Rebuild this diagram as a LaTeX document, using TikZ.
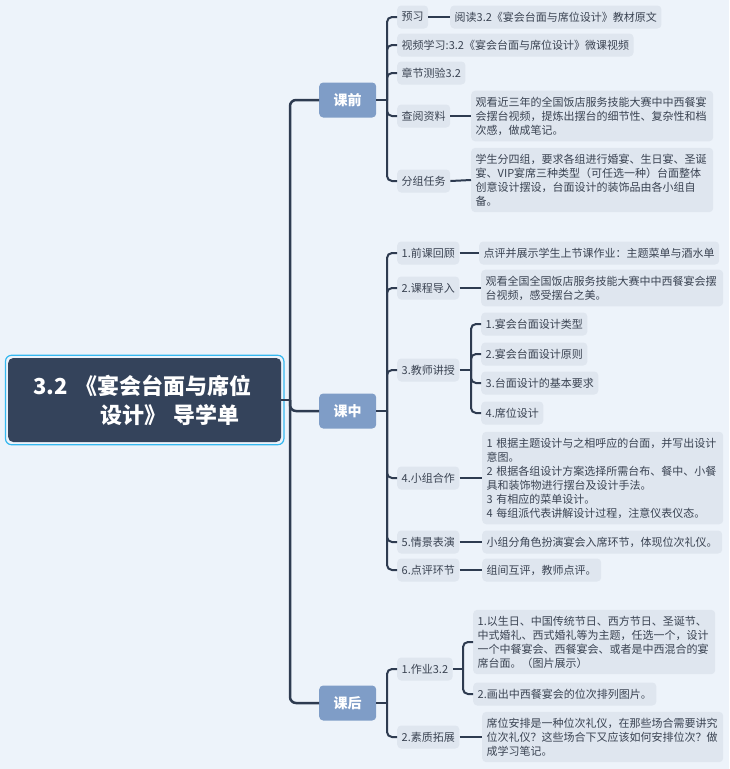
\documentclass[tikz,border=0pt]{standalone}
\usepackage{fontspec}
\setmainfont{Noto Sans CJK SC}
\definecolor{bgc}{HTML}{EDF3FA}
\definecolor{boxc}{HTML}{DFE6EF}
\definecolor{txtc}{HTML}{3A4352}
\definecolor{linec}{HTML}{2E3B50}
\definecolor{topc}{HTML}{7F9DC7}
\definecolor{rootc}{HTML}{34435B}
\definecolor{rootb}{HTML}{35B8F0}
\tikzset{
  box/.style={fill=boxc, rounded corners=4pt, text=txtc, font=\fontsize{11}{14}\selectfont,
    inner xsep=4.5pt, inner ysep=6pt, minimum height=23pt, anchor=west},
  leafm/.style={box, align=left},
  topic/.style={fill=topc, rounded corners=4pt, text=white, font=\fontsize{14}{16}\selectfont\bfseries,
    minimum width=57pt, minimum height=35pt, anchor=west, inner sep=0pt},
  trunk/.style={draw=linec, line width=2.5pt, rounded corners=6pt},
  ln/.style={draw=linec, line width=2pt, rounded corners=5pt},
}
\begin{document}
\begin{tikzpicture}[x=1pt,y=-1pt]
\fill[bgc] (0,0) rectangle (729,769);
\useasboundingbox (0,0) rectangle (729,769);

% root
\node[fill=rootc, rounded corners=5pt, text=white, font=\fontsize{22}{29}\selectfont\bfseries,
  minimum width=273pt, minimum height=84pt, inner xsep=25pt, text width=223pt, align=left,
  anchor=west] (root) at (8,400) {3.2 《宴会台面与席位\\\hspace*{67pt}设计》 导学单};
\draw[rootb, line width=1.2pt, rounded corners=6pt]
  ([xshift=-2.5pt,yshift=2.5pt]root.north west) rectangle ([xshift=2.5pt,yshift=-2.5pt]root.south east);

% topics
\node[topic] (kq) at (319,100) {课前};
\node[topic] (kz) at (319,411) {课中};
\node[topic] (kh) at (319,703) {课后};

\coordinate (rj) at (290,400);
\coordinate (jq) at (387,100);
\coordinate (jz) at (387,411);
\coordinate (jh) at (387,703);
\coordinate (j3) at (471,370);
\coordinate (jh1) at (463,669);

% 课前
\node[box] (yuxi) at (397,17) {预习};
\node[box] (shipin) at (397,45) {视频学习:3.2《宴会台面与席位设计》微课视频};
\node[box] (zhangjie) at (397,73) {章节测验3.2};
\node[box] (chayue) at (397,116) {查阅资料};
\node[box] (fenzu) at (397,181) {分组任务};
\node[box] (yuxiL) at (450,17) {阅读3.2《宴会台面与席位设计》教材原文};
\node[leafm, text width=233pt] (chayueL) at (471,116) {观看近三年的全国饭店服务技能大赛中中西餐宴\\会摆台视频，提炼出摆台的细节性、复杂性和档\\次感，做成笔记。};
\node[leafm, text width=233pt] (fenzuL) at (471,180) {学生分四组，要求各组进行婚宴、生日宴、圣诞\\宴、VIP宴席三种类型（可任选一种）台面整体\\创意设计摆设，台面设计的装饰品由各小组自\\备。};

% 课中
\node[box] (s1) at (397,253) {1.前课回顾};
\node[box] (s2) at (397,288) {2.课程导入};
\node[box] (s3) at (397,370) {3.教师讲授};
\node[box] (s4) at (397,478) {4.小组合作};
\node[box] (s5) at (397,542) {5.情景表演};
\node[box] (s6) at (397,570) {6.点评环节};
\node[box] (s1L) at (479,253) {点评并展示学生上节课作业：主题菜单与酒水单};
\node[leafm, text width=233pt] (s2L) at (481,288) {观看全国全国饭店服务技能大赛中中西餐宴会摆\\台视频，感受摆台之美。};
\node[box] (t1) at (481,324) {1.宴会台面设计类型};
\node[box] (t2) at (481,354) {2.宴会台面设计原则};
\node[box] (t3) at (481,383) {3.台面设计的基本要求};
\node[box] (t4) at (481,413) {4.席位设计};
\node[leafm, text width=232pt] (s4L) at (482,478) {1 根据主题设计与之相呼应的台面，并写出设计\\意图。\\2 根据各组设计方案选择所需台布、餐中、小餐\\具和装饰物进行摆台及设计手法。\\3 有相应的菜单设计。\\4 每组派代表讲解设计过程，注意仪表仪态。};
\node[box] (s5L) at (482,542) {小组分角色扮演宴会入席环节，体现位次礼仪。};
\node[box] (s6L) at (482,570) {组间互评，教师点评。};

% 课后
\node[box] (h1) at (397,669) {1.作业3.2};
\node[box] (h2) at (397,737) {2.素质拓展};
\node[leafm, text width=233pt] (h1a) at (473,642) {1.以生日、中国传统节日、西方节日、圣诞节、\\中式婚礼、西式婚礼等为主题，任选一个，设计\\一个中餐宴会、西餐宴会、或者是中西混合的宴\\席台面。（图片展示）};
\node[box] (h1b) at (473,694) {2.画出中西餐宴会的位次排列图片。};
\node[leafm, text width=232pt] (h2L) at (482,737) {席位安排是一种位次礼仪，在那些场合需要讲究\\位次礼仪？这些场合下又应该如何安排位次？做\\成学习笔记。};

% trunk connectors
\draw[trunk] (root.east) -- (rj);
\draw[trunk] (rj) |- (kq.west);
\draw[trunk] (rj) |- (kz.west);
\draw[trunk] (rj) |- (kh.west);

% branch connectors
\draw[ln] (kq.east) -- (jq);
\foreach \n in {yuxi,shipin,zhangjie,chayue,fenzu} \draw[ln] (jq) |- (\n.west);
\draw[ln] (kz.east) -- (jz);
\foreach \n in {s1,s2,s3,s4,s5,s6} \draw[ln] (jz) |- (\n.west);
\draw[ln] (kh.east) -- (jh);
\foreach \n in {h1,h2} \draw[ln] (jh) |- (\n.west);

\draw[ln] (s3.east) -- (j3);
\foreach \n in {t1,t2,t3,t4} \draw[ln] (j3) |- (\n.west);
\draw[ln] (h1.east) -- (jh1);
\foreach \n in {h1a,h1b} \draw[ln] (jh1) |- (\n.west);

% leaf connectors
\draw[ln] (yuxi.east) -- (yuxiL.west);
\draw[ln] (chayue.east) -- (chayueL.west);
\draw[ln] (fenzu.east) -- (fenzuL.west);
\draw[ln] (s1.east) -- (s1L.west);
\draw[ln] (s2.east) -- (s2L.west);
\draw[ln] (s4.east) -- (s4L.west);
\draw[ln] (s5.east) -- (s5L.west);
\draw[ln] (s6.east) -- (s6L.west);
\draw[ln] (h2.east) -- (h2L.west);
\end{tikzpicture}
\end{document}
